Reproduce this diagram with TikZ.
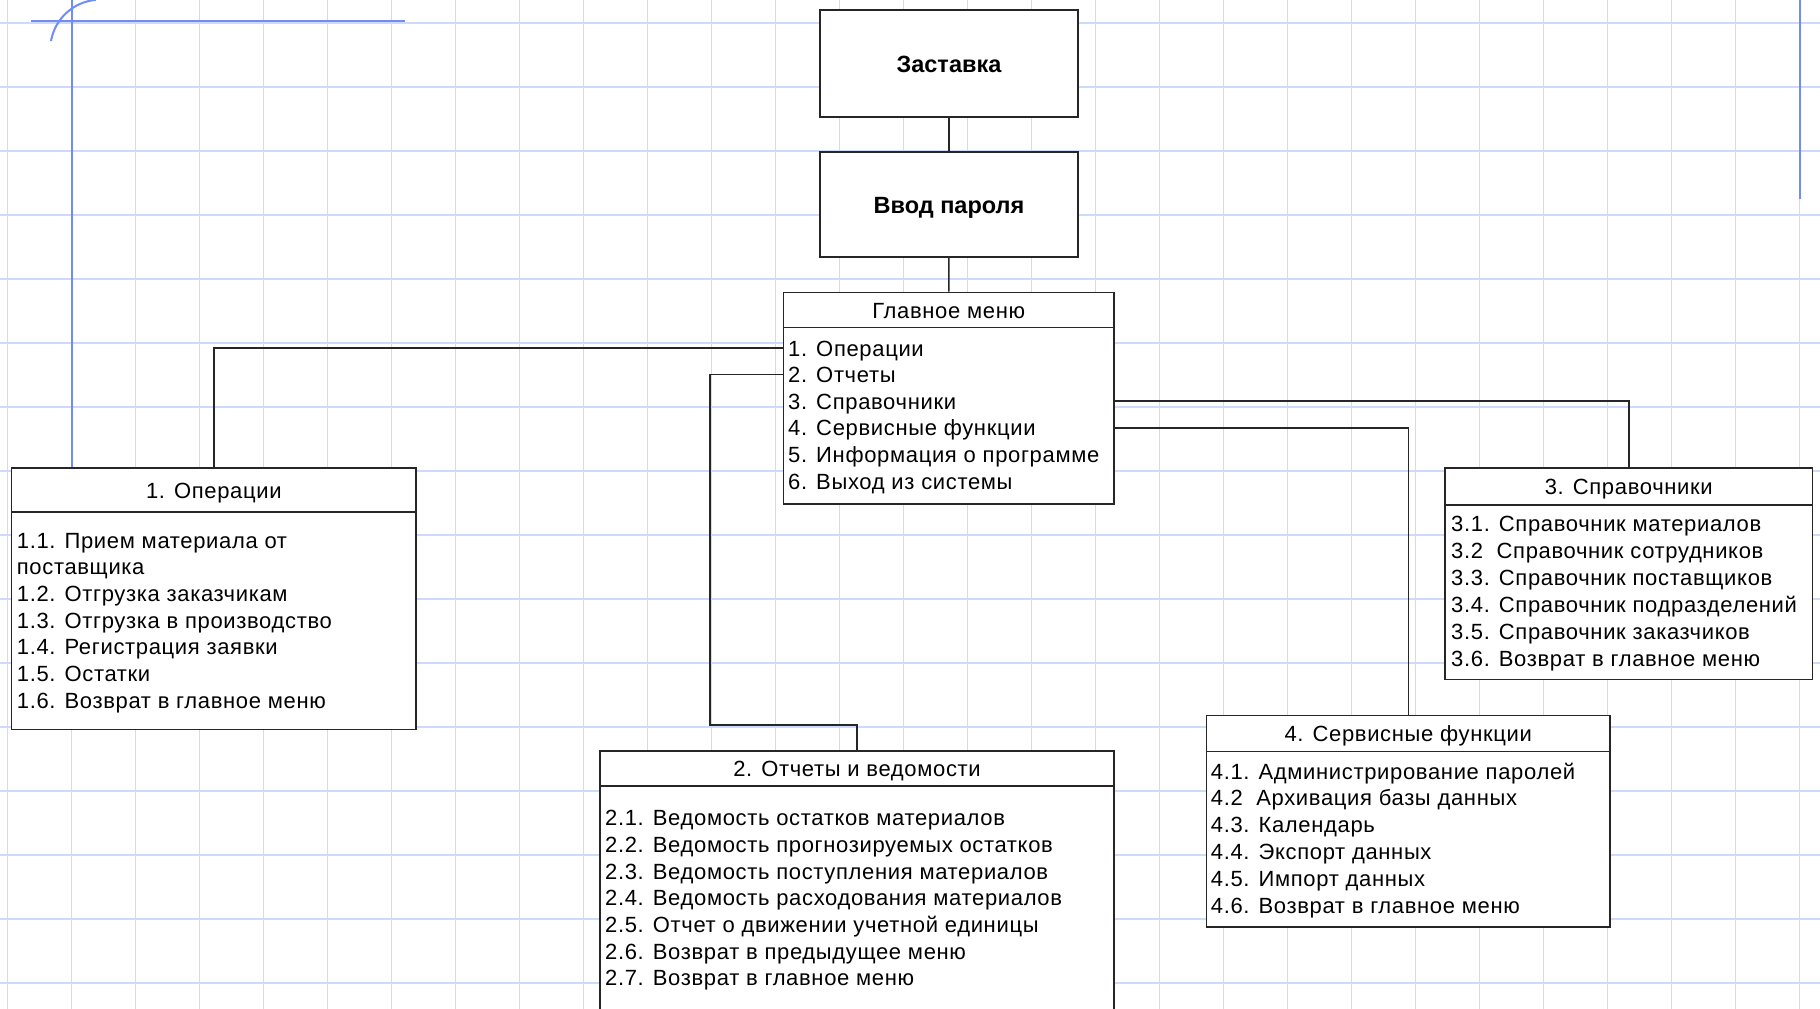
\documentclass[tikz,border=0pt]{standalone}
\usepackage{fontspec}
\setmainfont{Liberation Sans}
\newfontfamily\menufont[LetterSpace=3]{Liberation Sans}
\definecolor{gridblue}{RGB}{206,218,250}
\definecolor{penblue}{RGB}{112,141,245}

\begin{document}
\begin{tikzpicture}[x=1pt,y=-1pt,
		gridline/.style={draw=gridblue, line width=1.7pt},
		penline/.style={draw=penblue, line width=2pt},
		box/.style={draw=black!85, line width=1.6pt, fill=white, inner sep=0pt},
		titlebox/.style={box, font=\fontsize{23.5}{28}\selectfont\bfseries, text height=17pt, text depth=0pt},
		headbox/.style={box, font=\menufont\fontsize{22}{26}\selectfont, text height=16pt, text depth=0pt},
		itemtext/.style={anchor=base west, inner sep=0pt, font=\menufont\fontsize{22}{26}\selectfont, text height=16pt, text depth=0pt},
		link/.style={draw=black!85, line width=1.5pt}]
		\useasboundingbox (0,0) rectangle (1820,1009);
		\fill[white] (0,0) rectangle (1820,1009);
		\clip (0,0) rectangle (1820,1009);
		
		% squared paper
		\foreach \x in {0,...,28} \draw[gridline] ({7.5+64*\x},0) -- ({7.5+64*\x},1009);
		\foreach \y in {0,...,15} \draw[gridline] (0,{23+64*\y}) -- (1820,{23+64*\y});
		
		\draw[penline] (72,0) -- (72,468);
		\draw[penline] (31,21) -- (405,21);
		\draw[penline] (51,41) arc[start angle=190, end angle=265, radius=50];
		\draw[penline] (1800,0) -- (1800,199);
		
		\node[titlebox, minimum width=258pt, minimum height=107pt] (splash) at (949,63.5) {Заставка};
		\node[titlebox, minimum width=258pt, minimum height=105pt] (login) at (949,204.5) {Ввод пароля};
		
		% main menu
		\node[box, minimum width=330.5pt, minimum height=211.5pt] (main) at (948.75,398.25) {};
		\node[headbox, minimum width=330.5pt, minimum height=35pt, anchor=north] (mainhead) at (main.north) {Главное меню};
		\foreach \t [count=\i] in {1. Операции, 2. Отчеты, 3. Справочники, 4. Сервисные функции, 5. Информация о программе, 6. Выход из системы}
		\node[itemtext] (main-\i) at (788,{329.4+26.6*\i}) {\t};
		
		% 1
		\node[box, minimum width=404.4pt, minimum height=261.5pt] (ops) at (213.8,598.75) {};
		\node[headbox, minimum width=404.4pt, minimum height=44pt, anchor=north] (opshead) at (ops.north) {1. Операции};
		\foreach \t [count=\i] in {1.1. Прием материала от, поставщика, 1.2. Отгрузка заказчикам, 1.3. Отгрузка в производство, 1.4. Регистрация заявки, 1.5. Остатки, 1.6. Возврат в главное меню}
		\node[itemtext] (ops-\i) at (16.7,{521.3+26.7*\i}) {\t};
		
		% 2
		\node[box, minimum width=514pt, minimum height=300pt] (rep) at (857,901) {};
		\node[headbox, minimum width=514pt, minimum height=35pt, anchor=north] (rephead) at (rep.north) {2. Отчеты и ведомости};
		\foreach \t [count=\i] in {2.1. Ведомость остатков материалов, 2.2. Ведомость прогнозируемых остатков, 2.3. Ведомость поступления материалов, 2.4. Ведомость расходования материалов, 2.5. Отчет о движении учетной единицы, 2.6. Возврат в предыдущее меню, 2.7. Возврат в главное меню}
		\node[itemtext] (rep-\i) at (605,{799+26.7*\i}) {\t};
		
		% 3
		\node[box, minimum width=367.5pt, minimum height=211.5pt] (refs) at (1628.75,573.75) {};
		\node[headbox, minimum width=367.5pt, minimum height=37pt, anchor=north] (refshead) at (refs.north) {3. Справочники};
		\foreach \t [count=\i] in {3.1. Справочник материалов, 3.2\ \ Справочник сотрудников, 3.3. Справочник поставщиков, 3.4. Справочник подразделений, 3.5. Справочник заказчиков, 3.6. Возврат в главное меню}
		\node[itemtext] (refs-\i) at (1451,{504+27*\i}) {\t};
		
		% 4
		\node[box, minimum width=403.5pt, minimum height=211.5pt] (serv) at (1408.25,821.25) {};
		\node[headbox, minimum width=403.5pt, minimum height=36pt, anchor=north] (servhead) at (serv.north) {4. Сервисные функции};
		\foreach \t [count=\i] in {4.1. Администрирование паролей, 4.2\ \ Архивация базы данных, 4.3. Календарь, 4.4. Экспорт данных, 4.5. Импорт данных, 4.6. Возврат в главное меню}
		\node[itemtext] (serv-\i) at (1210.7,{752.2+26.8*\i}) {\t};
		
		\draw[link] (splash) -- (login);
		\draw[link] (login) -- (main);
		\draw[link] (main.west |- main-1) -| (ops.north);
		\coordinate (repbend) at (710,725);
		\draw[link] (main.west |- main-2) -| (repbend) -| (rep.north);
		\draw[link] (main.east |- main-3) -| (refs.north);
		\draw[link] (main.east |- main-4) -| (serv.north);
\end{tikzpicture}
\end{document}
